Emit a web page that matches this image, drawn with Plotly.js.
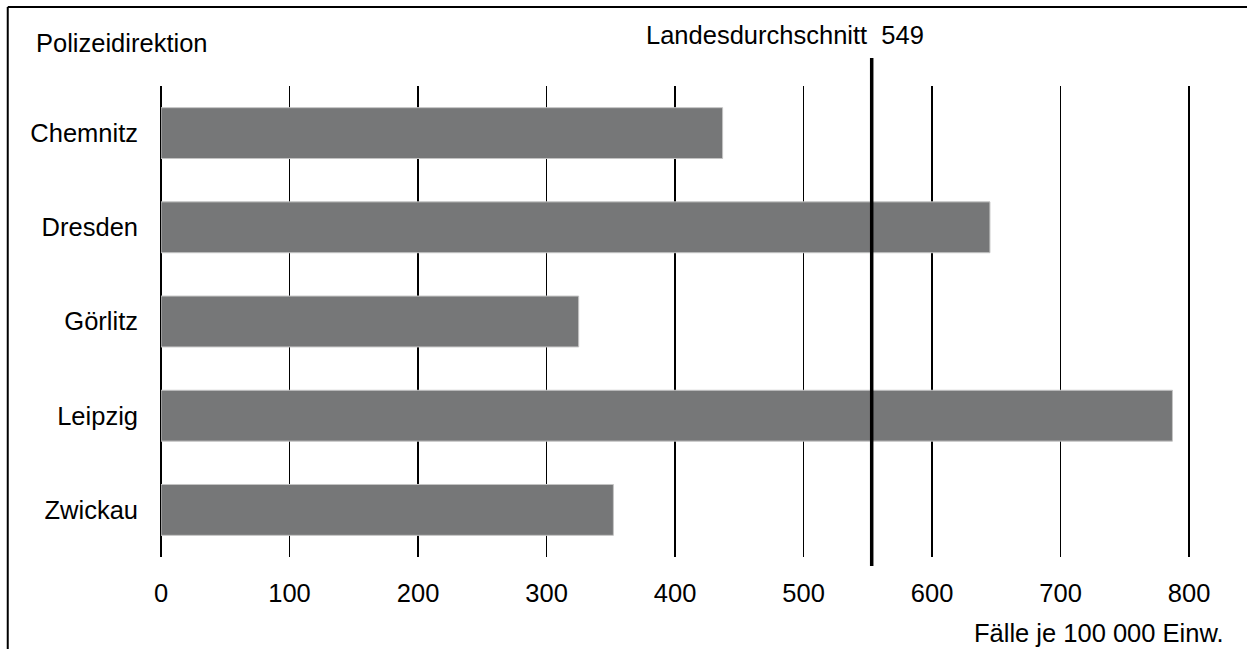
<!DOCTYPE html>
<html>
<head>
<meta charset="utf-8">
<script src="https://cdn.plot.ly/plotly-3.0.1.min.js"></script>
<style>
  html, body { margin: 0; padding: 0; background: #ffffff; }
  #chart { width: 1247px; height: 649px; }
</style>
</head>
<body>
<div id="chart"></div>
<script>
// Data
const categories = ["Chemnitz", "Dresden", "Görlitz", "Leipzig", "Zwickau"];
const values = [437, 645, 325, 787, 352];
const averageLabel = 549;
const averageLinePos = 553;
const tickValues = [0, 100, 200, 300, 400, 500, 600, 700, 800];
const xUnitLabel = "Fälle je 100 000 Einw.";
const yGroupLabel = "Polizeidirektion";
const averageText = "Landesdurchschnitt  " + averageLabel;

const FONT = "Liberation Sans, Arial, sans-serif";
const FS = 25.5;

const trace = {
  type: "bar",
  orientation: "h",
  y: categories,
  x: values,
  width: 0.54,
  marker: { color: "#767778", line: { color: "#c4c4c4", width: 1 } },
  hoverinfo: "skip"
};

const layout = {
  width: 1247,
  height: 649,
  margin: { l: 161, r: 54, t: 86, b: 92, pad: 0 },
  paper_bgcolor: "#ffffff",
  plot_bgcolor: "#ffffff",
  showlegend: false,
  font: { family: FONT, size: FS, color: "#000000" },
  xaxis: {
    range: [0, 803],
    tickvals: tickValues,
    ticktext: tickValues.map(String),
    showgrid: true,
    gridcolor: "#000000",
    gridwidth: 1.6,
    zeroline: true,
    zerolinecolor: "#000000",
    zerolinewidth: 1.6,
    showline: false,
    ticks: "",
    ticklabelstandoff: 18,
    tickfont: { family: FONT, size: FS, color: "#000000" },
    fixedrange: true
  },
  yaxis: {
    type: "category",
    categoryorder: "array",
    categoryarray: categories,
    autorange: false,
    range: [4.5, -0.5],
    showgrid: false,
    zeroline: false,
    showline: false,
    ticks: "",
    ticklabelstandoff: 22,
    tickfont: { family: FONT, size: FS, color: "#000000" },
    fixedrange: true
  },
  shapes: [
    { type: "line", xref: "x", yref: "paper", x0: averageLinePos, x1: averageLinePos,
      y0: -0.019, y1: 1.0594, line: { color: "#000000", width: 3.5 }, layer: "above" },
    { type: "line", xref: "paper", yref: "paper", x0: -0.1485, x1: 1.06,
      y0: 1.1677, y1: 1.1677, line: { color: "#000000", width: 2 } },
    { type: "line", xref: "paper", yref: "paper", x0: -0.1485, x1: -0.1485,
      y0: 1.1677, y1: -0.2, line: { color: "#000000", width: 2 } }
  ],
  annotations: [
    { xref: "paper", yref: "paper", x: -0.1235, y: 1.0913, xanchor: "left", yanchor: "middle",
      text: yGroupLabel, showarrow: false, font: { family: FONT, size: FS, color: "#000000" } },
    { xref: "paper", yref: "paper", x: 0.7411, y: 1.1083, xanchor: "right", yanchor: "middle",
      text: averageText, showarrow: false, font: { family: FONT, size: FS, color: "#000000" } },
    { xref: "paper", yref: "paper", x: 1.0318, y: -0.1614, xanchor: "right", yanchor: "middle",
      text: xUnitLabel, showarrow: false, font: { family: FONT, size: FS, color: "#000000" } }
  ]
};

Plotly.newPlot("chart", [trace], layout, { displayModeBar: false, staticPlot: true });
</script>
</body>
</html>
